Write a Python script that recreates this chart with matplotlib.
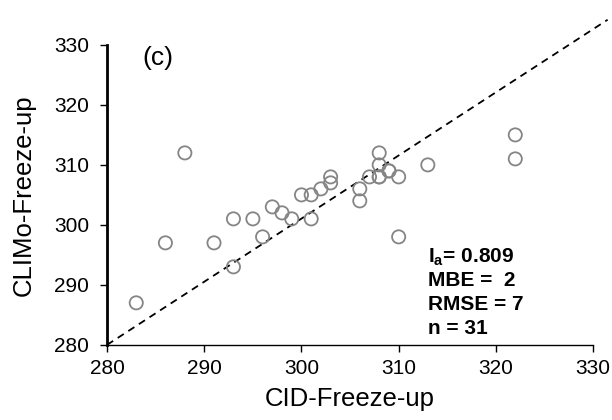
import matplotlib
matplotlib.use("Agg")
import matplotlib.pyplot as plt

plt.rcParams["font.family"] = ["Liberation Sans", "DejaVu Sans"]
plt.rcParams["mathtext.fontset"] = "custom"
plt.rcParams["mathtext.bf"] = "Liberation Sans:bold"
plt.rcParams["mathtext.rm"] = "Liberation Sans"

# ===== DATA =====
cid_freeze = [283, 286, 288, 291, 293, 293, 295, 296, 297, 298, 299, 300, 301,
              301, 302, 303, 303, 306, 306, 307, 308, 308, 308, 308, 309, 309,
              310, 310, 313, 322, 322]
climo_freeze = [287, 297, 312, 297, 301, 293, 301, 298, 303, 302, 301, 305, 305,
                301, 306, 307, 308, 306, 304, 308, 308, 308, 310, 312, 309, 309,
                308, 298, 310, 315, 311]

# reference line as drawn in the original
ref_x = [280, 331.5]
ref_y = [280, 334.2]

x_ticks = [280, 290, 300, 310, 320, 330]
y_ticks = [280, 290, 300, 310, 320, 330]

stats_lines = [r"$\mathbf{I_a}$= 0.809", "MBE =  2", "RMSE = 7", "n = 31"]

# ===== PLOT =====
fig = plt.figure(figsize=(6.12, 4.2), dpi=100)
ax = fig.add_axes([0.175, 0.179, 0.794, 0.714])

ax.plot(ref_x, ref_y, "k--", lw=1.3, dashes=(4, 3), clip_on=False, zorder=1)
ax.scatter(cid_freeze, climo_freeze, s=90, facecolors="none",
           edgecolors="#858585", linewidths=1.3, zorder=2)

ax.set_xlim(280, 330)
ax.set_ylim(280, 330)
ax.set_xticks(x_ticks)
ax.set_yticks(y_ticks)
ax.tick_params(direction="out", length=5, width=1, labelsize=15)
ax.tick_params(axis="y", pad=8)
ax.tick_params(axis="x", pad=5)

for s in ["top", "right"]:
    ax.spines[s].set_visible(False)
ax.spines["left"].set_linewidth(2)
ax.spines["bottom"].set_linewidth(1)

ax.set_xlabel("CID-Freeze-up", fontsize=18.5, labelpad=7)
ax.set_ylabel("CLIMo-Freeze-up", fontsize=18.5, labelpad=13)

ax.text(0.072, 0.955, "(c)", transform=ax.transAxes, fontsize=19, va="center")

for i, line in enumerate(stats_lines):
    ax.text(0.661, 0.292 - i * 0.079, line, transform=ax.transAxes,
            fontsize=15, fontweight="bold", va="center")

fig.savefig("out.png", dpi=100)
